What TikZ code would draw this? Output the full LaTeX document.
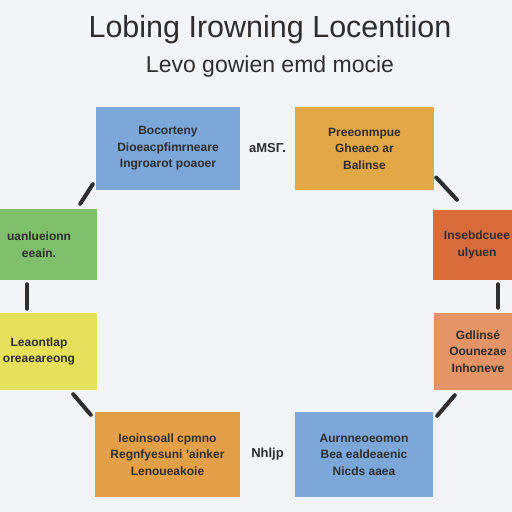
\documentclass[tikz,border=0pt]{standalone}
\usepackage{fontspec}
\setmainfont{Liberation Sans}
\definecolor{paper}{HTML}{F1F5F8}
\definecolor{inkdark}{HTML}{2E2E2E}
\definecolor{stageblue}{HTML}{7BA7D9}
\definecolor{stagegold}{HTML}{E3A846}
\definecolor{stagered}{HTML}{DA6B3A}
\definecolor{stagesalmon}{HTML}{E49466}
\definecolor{stageorange}{HTML}{E4A046}
\definecolor{stageyellow}{HTML}{E6E05A}
\definecolor{stagegreen}{HTML}{7FBF6C}

\tikzset{
  stagebox/.style={rectangle, fill=#1, text=inkdark, align=center,
    font=\bfseries\fontsize{12}{16.5}\selectfont, inner sep=0pt},
  cycleline/.style={draw=inkdark, line width=4pt, line cap=round},
  gaplabel/.style={text=inkdark, font=\bfseries\fontsize{13}{15}\selectfont}
}

\begin{document}
\begin{tikzpicture}[x=1pt, y=-1pt]
  \useasboundingbox (0,0) rectangle (512,512);
  \fill[paper] (0,0) rectangle (512,512);
  \clip (0,0) rectangle (512,512);

  % heading
  \node (t1) [anchor=base, text=inkdark, font=\fontsize{30.5}{34}\selectfont] at (270,37) {Lobing Irowning Locentiion};
  \node (t2) [anchor=base, text=inkdark, font=\fontsize{23}{27}\selectfont] at (270,72) {Levo gowien emd mocie};

  % stages, clockwise from top left
  \node (b1) [stagebox=stageblue, minimum width=144pt, minimum height=83pt] at (168,148.5)
    {Bocorteny\\Dioeacpfimrneare\\Ingroarot poaoer};
  \node (b2) [stagebox=stagegold, minimum width=139pt, minimum height=83pt] at (364.5,148.5)
    {Preeonmpue\\Gheaeo ar\\Balinse};
  \node (b3) [stagebox=stagered, minimum width=88pt, minimum height=70pt] at (477,245)
    {Insebdcuee\\ulyuen};
  \node (b4) [stagebox=stagesalmon, minimum width=88pt, minimum height=77pt] at (478,351.5)
    {Gdlinsé\\Oounezae\\Inhoneve};
  \node (b5) [stagebox=stageblue, minimum width=138pt, minimum height=85pt] at (364,454.5)
    {Aurnneoeomon\\Bea ealdeaenic\\Nicds aaea};
  \node (b6) [stagebox=stageorange, minimum width=145pt, minimum height=85pt] at (167.5,454.5)
    {Ieoinsoall cpmno\\Regnfyesuni 'ainker\\Lenoueakoie};
  \node (b7) [stagebox=stageyellow, minimum width=116pt, minimum height=77pt] at (39,351.5)
    {Leaontlap\\oreaeareong};
  \node (b8) [stagebox=stagegreen, minimum width=116pt, minimum height=71pt] at (39,244.5)
    {uanlueionn\\eeain.};

  % connectors
  \path (b1) -- node[gaplabel] {aMSΓ.} (b2);
  \draw[cycleline] ([xshift=2pt,yshift=-29pt]b2.east) -- ([xshift=-20pt,yshift=10pt]b3.north);
  \draw[cycleline] ([xshift=21pt,yshift=-4pt]b3.south) -- ([xshift=20pt,yshift=5pt]b4.north);
  \draw[cycleline] ([xshift=21pt,yshift=-5pt]b4.south west) -- ([xshift=4pt,yshift=-4pt]b5.north east);
  \path (b5) -- node[gaplabel] {Nhljp} (b6);
  \draw[cycleline] ([xshift=-4pt,yshift=-3pt]b6.north west) -- ([xshift=-24pt,yshift=-4pt]b7.south east);
  \draw[cycleline] ([xshift=-12pt,yshift=4pt]b7.north) -- ([xshift=-12pt,yshift=-4pt]b8.south);
  \draw[cycleline] ([xshift=-17pt,yshift=5pt]b8.north east) -- ([xshift=-3pt,yshift=6pt]b1.south west);
\end{tikzpicture}
\end{document}
